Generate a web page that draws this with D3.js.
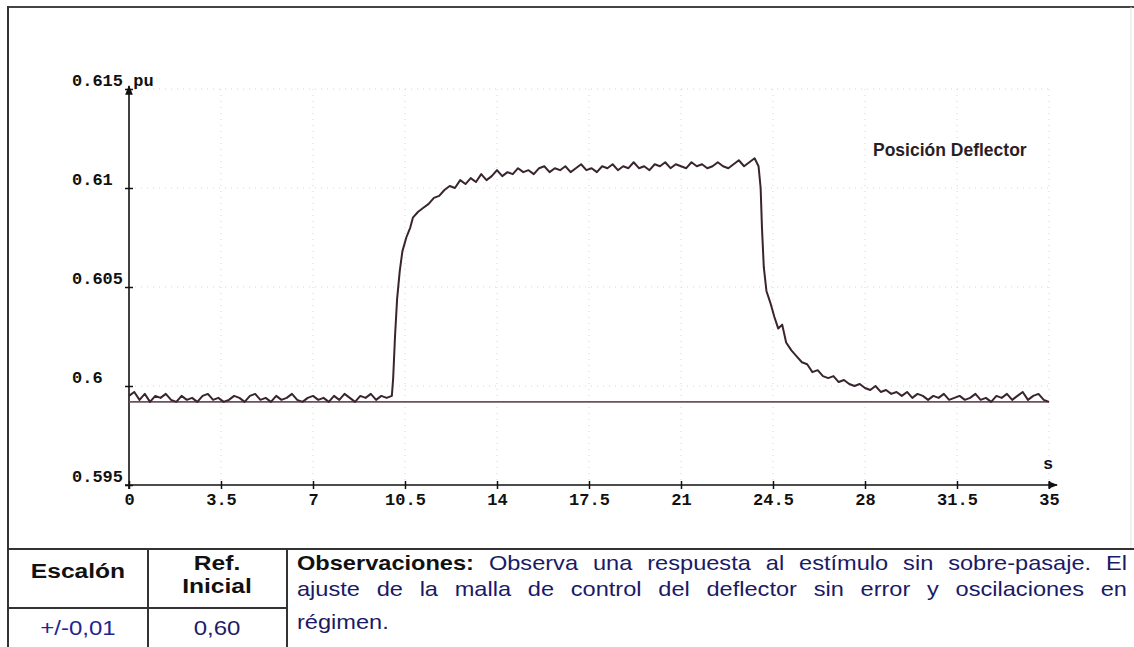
<!DOCTYPE html>
<html>
<head>
<meta charset="utf-8">
<script src="https://cdn.jsdelivr.net/npm/d3@7"></script>
<style>
  body { margin: 0; background: #fff; }
  svg { display: block; }
  .tick text { font-family: "Liberation Mono", "Courier New", monospace; font-weight: bold; font-size: 17px; fill: #111; }
</style>
</head>
<body>
<script>
// axis ticks
var xTicks = [0, 3.5, 7, 10.5, 14, 17.5, 21, 24.5, 28, 31.5, 35];
var xTickLabels = ["0", "3.5", "7", "10.5", "14", "17.5", "21", "24.5", "28", "31.5", "35"];
var yTicks = [0.595, 0.6, 0.605, 0.61, 0.615];
var yTickLabels = ["0.595", "0.6", "0.605", "0.61", "0.615 pu"];
var xUnit = "s";

// [time s, position pu]
var posDeflector = [
  [0,0.5995],[0.2,0.5997],[0.4,0.5993],[0.6,0.5996],[0.8,0.5992],[1,0.5995],[1.2,0.5994],[1.4,0.5996],
  [1.6,0.5993],[1.8,0.5992],[2,0.5995],[2.2,0.5993],[2.4,0.5994],[2.6,0.5992],[2.8,0.5995],[3,0.5996],
  [3.2,0.5993],[3.4,0.5994],[3.6,0.5992],[3.8,0.5993],[4,0.5995],[4.2,0.5994],[4.4,0.5992],[4.6,0.5995],
  [4.8,0.5996],[5,0.5993],[5.2,0.5994],[5.4,0.5992],[5.6,0.5995],[5.8,0.5993],[6,0.5994],[6.2,0.5996],
  [6.4,0.5993],[6.6,0.5992],[6.8,0.5994],[7,0.5995],[7.2,0.5993],[7.4,0.5994],[7.6,0.5992],[7.8,0.5995],
  [8,0.5993],[8.2,0.5996],[8.4,0.5994],[8.6,0.5992],[8.8,0.5995],[9,0.5994],[9.2,0.5996],[9.4,0.5993],
  [9.6,0.5995],[9.8,0.5994],[10,0.5995],
  [10.05,0.6004],[10.12,0.6025],[10.2,0.6044],[10.3,0.6058],[10.4,0.6068],[10.55,0.6075],[10.7,0.6080],
  [10.8,0.6085],[11,0.6088],[11.2,0.6090],[11.4,0.6092],[11.6,0.6095],[11.8,0.6096],[12,0.6099],
  [12.2,0.6101],[12.4,0.6100],[12.6,0.6104],[12.8,0.6102],[13,0.6105],[13.2,0.6103],[13.4,0.6107],
  [13.6,0.6104],[13.8,0.6106],[14,0.6109],[14.2,0.6106],[14.4,0.6108],[14.6,0.6107],[14.8,0.6110],
  [15,0.6108],[15.2,0.6109],[15.4,0.6107],[15.6,0.6110],[15.8,0.6111],[16,0.6108],[16.2,0.6110],
  [16.4,0.6109],[16.6,0.6111],[16.8,0.6108],[17,0.6110],[17.2,0.6112],[17.4,0.6109],[17.6,0.6110],
  [17.8,0.6108],[18,0.6111],[18.2,0.6110],[18.4,0.6112],[18.6,0.6109],[18.8,0.6111],[19,0.6110],
  [19.2,0.6113],[19.4,0.6110],[19.6,0.6111],[19.8,0.6109],[20,0.6112],[20.2,0.6111],[20.4,0.6113],
  [20.6,0.6110],[20.8,0.6112],[21,0.6111],[21.2,0.6110],[21.4,0.6113],[21.6,0.6111],[21.8,0.6112],
  [22,0.6110],[22.2,0.6111],[22.4,0.6113],[22.6,0.6111],[22.8,0.6110],[23,0.6112],[23.2,0.6114],
  [23.4,0.6111],[23.6,0.6113],[23.8,0.6115],[23.95,0.6111],
  [24.03,0.6100],[24.08,0.6080],[24.15,0.6060],[24.25,0.6048],[24.4,0.6042],[24.55,0.6035],[24.7,0.6029],
  [24.85,0.6031],[25,0.6022],[25.2,0.6018],[25.4,0.6015],[25.6,0.6012],[25.8,0.6011],[26,0.6007],
  [26.2,0.6008],[26.4,0.6005],[26.6,0.6004],[26.8,0.6005],[27,0.6002],[27.2,0.6003],[27.4,0.6001],
  [27.6,0.6000],[27.8,0.6001],[28,0.5999],[28.2,0.5998],[28.4,0.6000],[28.6,0.5997],[28.8,0.5998],
  [29,0.5996],[29.2,0.5997],[29.4,0.5995],[29.6,0.5997],[29.8,0.5994],[30,0.5996],[30.2,0.5995],
  [30.4,0.5993],[30.6,0.5995],[30.8,0.5994],[31,0.5996],[31.2,0.5993],[31.4,0.5994],[31.6,0.5995],
  [31.8,0.5993],[32,0.5994],[32.2,0.5996],[32.4,0.5993],[32.6,0.5994],[32.8,0.5992],[33,0.5995],
  [33.2,0.5994],[33.4,0.5996],[33.6,0.5993],[33.8,0.5995],[34,0.5997],[34.2,0.5993],[34.4,0.5995],
  [34.6,0.5996],[34.8,0.5993],[35,0.5992]
];
// initial reference level
var refLine = [[0, 0.5992], [35, 0.5992]];
var seriesName = "Posición Deflector";

// table below the chart
var tableHead = ["Escalón", "Ref.", "Inicial"];
var tableVals = ["+/-0,01", "0,60"];
var obsTitle = "Observaciones:";
var obsLines = [
  "Observa una respuesta al estímulo sin sobre-pasaje. El",
  "ajuste de la malla de control del deflector sin error y oscilaciones en",
  "régimen."
];

var W = 1134, H = 647;
var svg = d3.select("body").append("svg").attr("width", W).attr("height", H);

// set the ranges
var x = d3.scaleLinear().domain([0, 35]).range([129, 1049]);
var y = d3.scaleLinear().domain([0.595, 0.615]).range([485, 89]);

var defs = svg.append("defs");
defs.append("marker").attr("id", "arrow")
    .attr("viewBox", "0 0 10 10").attr("refX", 9).attr("refY", 5)
    .attr("markerWidth", 6).attr("markerHeight", 6).attr("orient", "auto")
  .append("path").attr("d", "M0,1 L10,5 L0,9 Z").attr("fill", "#111");

// frame
svg.append("line").attr("x1", 8).attr("y1", 7).attr("x2", W).attr("y2", 7)
    .attr("stroke", "#444").attr("stroke-width", 2);
svg.append("line").attr("x1", 8).attr("y1", 6).attr("x2", 8).attr("y2", H)
    .attr("stroke", "#333").attr("stroke-width", 2);
svg.append("line").attr("x1", 1131).attr("y1", 7).attr("x2", 1131).attr("y2", 549)
    .attr("stroke", "#e2e2e2").attr("stroke-width", 1);

// faint grid
var grid = svg.append("g").attr("stroke", "#d6d6d6").attr("stroke-width", 1).attr("stroke-dasharray", "1,5");
grid.selectAll(".vg").data(xTicks.slice(1)).enter().append("line")
    .attr("x1", function(d) { return x(d); }).attr("x2", function(d) { return x(d); })
    .attr("y1", y(0.615)).attr("y2", y(0.595));
grid.selectAll(".hg").data(yTicks.slice(1)).enter().append("line")
    .attr("x1", x(0)).attr("x2", x(35))
    .attr("y1", function(d) { return y(d); }).attr("y2", function(d) { return y(d); });

// X axis
var gx = svg.append("g").attr("transform", "translate(0," + y(0.595) + ")")
    .call(d3.axisBottom(x).tickValues(xTicks)
      .tickFormat(function(d, i) { return xTickLabels[i]; }).tickSizeOuter(0));
gx.select(".domain").remove();
gx.selectAll(".tick line").attr("y1", -4).attr("y2", 4).attr("stroke", "#111").attr("stroke-width", 1.5);
gx.selectAll(".tick text").attr("y", 20).attr("dy", 0);
svg.append("line").attr("x1", x(0) - 4).attr("y1", y(0.595)).attr("x2", x(35) + 8).attr("y2", y(0.595))
    .attr("stroke", "#111").attr("stroke-width", 1.6).attr("marker-end", "url(#arrow)");
svg.append("text").attr("x", x(35) - 6).attr("y", 469).text(xUnit)
    .attr("font-family", "Liberation Mono, monospace").attr("font-weight", "bold")
    .attr("font-size", "17px").attr("fill", "#111");

// Y axis
var gy = svg.append("g").attr("transform", "translate(" + x(0) + ",0)")
    .call(d3.axisLeft(y).tickValues(yTicks)
      .tickFormat(function(d, i) { return yTickLabels[i]; }).tickSizeOuter(0));
gy.select(".domain").remove();
gy.selectAll(".tick line").attr("x1", -4).attr("x2", 4).attr("stroke", "#111").attr("stroke-width", 1.5);
gy.selectAll(".tick text").attr("text-anchor", "start").attr("x", 72 - x(0)).attr("y", -4).attr("dy", 0);
svg.append("line").attr("x1", x(0)).attr("y1", y(0.595) + 4).attr("x2", x(0)).attr("y2", y(0.615) - 3)
    .attr("stroke", "#111").attr("stroke-width", 1.6).attr("marker-end", "url(#arrow)");

// lines
var line = d3.line()
    .x(function(d) { return x(d[0]); })
    .y(function(d) { return y(d[1]); });

svg.append("path").datum(refLine).attr("d", line)
    .attr("fill", "none").attr("stroke", "#6e5060").attr("stroke-width", 1.6);
svg.append("path").datum(posDeflector).attr("d", line)
    .attr("fill", "none").attr("stroke", "#3a2430").attr("stroke-width", 2)
    .attr("stroke-linejoin", "round");

svg.append("text").attr("x", 873).attr("y", 156).text(seriesName)
    .attr("font-family", "Liberation Sans, Arial, sans-serif").attr("font-weight", "bold")
    .attr("font-size", "17.5px").attr("fill", "#2a1e26");

// table
var tab = svg.append("g").attr("stroke", "#333");
tab.append("line").attr("x1", 8).attr("x2", W).attr("y1", 549).attr("y2", 549).attr("stroke-width", 2.2);
tab.append("line").attr("x1", 148).attr("x2", 148).attr("y1", 549).attr("y2", H).attr("stroke-width", 2);
tab.append("line").attr("x1", 287).attr("x2", 287).attr("y1", 549).attr("y2", H).attr("stroke-width", 2);
tab.append("line").attr("x1", 8).attr("x2", 287).attr("y1", 608).attr("y2", 608).attr("stroke-width", 2);

var sx = 1.2;
function stretchText(txt, cx, cy, anchor, bold, color, size, sc) {
  var t = svg.append("text").text(txt)
      .attr("text-anchor", anchor)
      .attr("font-family", "Liberation Sans, Arial, sans-serif")
      .attr("font-weight", bold ? "bold" : "normal")
      .attr("font-size", size + "px").attr("fill", color)
      .attr("transform", "translate(" + cx + "," + cy + ") scale(" + sc + ",1)");
  return t;
}
stretchText(tableHead[0], 78, 578, "middle", true, "#111", 20.5, sx);
stretchText(tableHead[1], 217, 570, "middle", true, "#111", 20.5, sx);
stretchText(tableHead[2], 217, 593, "middle", true, "#111", 20.5, sx);
stretchText(tableVals[0], 78, 635, "middle", false, "#23238f", 20, sx);
stretchText(tableVals[1], 217, 635, "middle", false, "#1c1c66", 20, sx);

// justified observations text
var bodySx = 1.18, x0 = 297, x1 = 1127;
var obsBase = [570, 596, 629];
function placeLine(tokens, yy, justify) {
  var items = tokens.map(function(tok) {
    var t = stretchText(tok.t, 0, yy, "start", tok.b, tok.b ? "#111" : "#1a1a66", 20, bodySx);
    return { el: t, w: t.node().getComputedTextLength() * bodySx };
  });
  var total = d3.sum(items, function(d) { return d.w; });
  var gap = justify ? (x1 - x0 - total) / (items.length - 1) : 6;
  var cx = x0;
  items.forEach(function(it) {
    it.el.attr("transform", "translate(" + cx + "," + yy + ") scale(" + bodySx + ",1)");
    cx += it.w + gap;
  });
}
obsLines.forEach(function(l, i) {
  var tokens = l.split(" ").map(function(w) { return { t: w, b: false }; });
  if (i === 0) tokens.unshift({ t: obsTitle, b: true });
  placeLine(tokens, obsBase[i], i < obsLines.length - 1);
});
</script>
</body>
</html>
